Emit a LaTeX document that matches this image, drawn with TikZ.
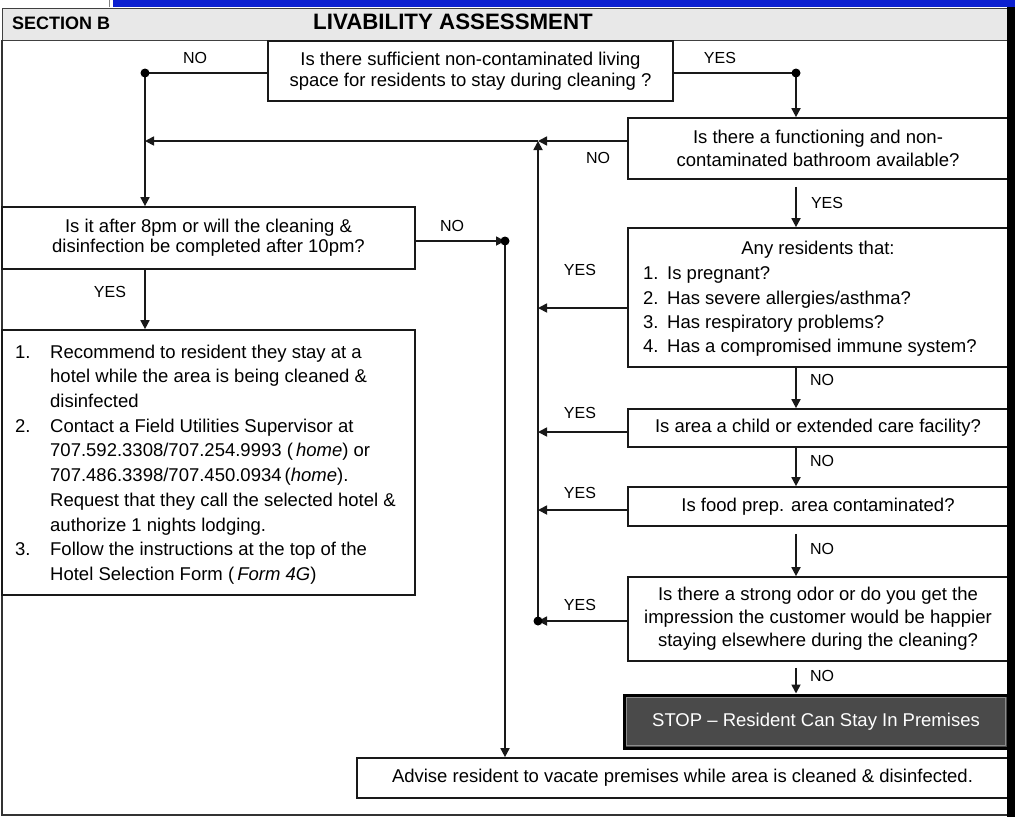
\documentclass[tikz,border=0pt]{standalone}
\usepackage{fontspec}
\setmainfont{Liberation Sans}
\usetikzlibrary{arrows.meta,calc}
\definecolor{topblue}{RGB}{12,32,208}
\definecolor{hdrgray}{RGB}{232,232,232}
\definecolor{stopfill}{RGB}{74,74,74}
\definecolor{linecol}{RGB}{25,25,25}
\begin{document}
\begin{tikzpicture}[x=1pt,y=-1pt,
  box/.style={draw=linecol, line width=1.7pt, fill=white, inner sep=0pt, align=center,
    font=\fontsize{18.5}{21}\selectfont},
  txt/.style={inner sep=0pt, font=\fontsize{18.5}{24.7}\selectfont},
  lbl/.style={inner sep=0pt, font=\fontsize{16}{18}\selectfont},
  ln/.style={line width=1.7pt, draw=linecol},
  arr/.style={line width=1.7pt, draw=linecol, -{Triangle[length=9pt,width=9pt]}},
  dot/.style={circle, fill=black, minimum size=9pt, inner sep=0pt},
  stopbox/.style={draw=black, line width=3pt, fill=stopfill, inner sep=0pt, text=white,
    font=\fontsize{18.5}{21}\selectfont}]
\useasboundingbox (0,0) rectangle (1015,817);
\fill[white] (0,0) rectangle (1015,817);
% top strip
\fill[topblue] (113,0) rectangle (1015,7);
\draw[gray, line width=1.2pt] (109.5,0) -- (109.5,7);
% header
\node[draw=black!75, fill=hdrgray, line width=1.3pt, minimum width=1006pt, minimum height=32pt,
  inner sep=0pt, anchor=north west] (hdr) at (2,8) {};
\node[inner sep=0pt, anchor=west, font=\bfseries\fontsize{18}{18}\selectfont] (sec) at (12,23) {SECTION B};
\node[inner sep=0pt, font=\bfseries\fontsize{22.3}{22}\selectfont] (ttl) at (453,22) {LIVABILITY ASSESSMENT};
% frame
\draw[black!80, line width=1.5pt] (2,40) -- (2,815) -- (1008,815);

% boxes
\node[box, minimum width=405pt, minimum height=60pt, font=\fontsize{18.5}{20.5}\selectfont] (q1) at (470.5,71)
  {Is there sufficient non-contaminated living\\space for residents to stay during cleaning ?};
\node[box, minimum width=380pt, minimum height=61pt, font=\fontsize{18.5}{23}\selectfont] (bath) at (818,148.5)
  {Is there a functioning and non-\\contaminated bathroom available?};
\node[box, minimum width=380pt, minimum height=139pt] (res) at (818,297.5) {};
\node[txt] (resT) at (818,250) {Any residents that:};
\node[txt, anchor=west] (res1) at (643,275) {\makebox[24pt][l]{1.}Is pregnant?};
\node[txt, anchor=west] (res2) at (643,300) {\makebox[24pt][l]{2.}Has severe allergies/asthma?};
\node[txt, anchor=west] (res3) at (643,324) {\makebox[24pt][l]{3.}Has respiratory problems?};
\node[txt, anchor=west] (res4) at (643,348) {\makebox[24pt][l]{4.}Has a compromised immune system?};
\node[box, minimum width=380pt, minimum height=38pt] (child) at (818,428)
  {Is area a child or extended care facility?};
\node[box, minimum width=380pt, minimum height=39pt] (food) at (818,506.5)
  {Is food prep. area contaminated?};
\node[box, minimum width=380pt, minimum height=84pt, font=\fontsize{18.5}{23}\selectfont] (odor) at (818,619)
  {\rule{0pt}{6pt}Is there a strong odor or do you get the\\impression the customer would be happier\\staying elsewhere during the cleaning?};
\node[stopbox, minimum width=384pt, minimum height=53pt] (stop) at (816,721.5)
  {STOP -- Resident Can Stay In Premises};
\draw[black!45, line width=1.2pt] ($(stop.north west)+(4,4)$) rectangle ($(stop.south east)+(-4,-4)$);
\node[box, minimum width=651pt, minimum height=40pt] (adv) at (682.5,778)
  {Advise resident to vacate premises while area is cleaned \& disinfected.};
\node[box, minimum width=413pt, minimum height=62pt, font=\fontsize{18.5}{20}\selectfont] (q8) at (208.5,238)
  {Is it after 8pm or will the cleaning \&\\disinfection be completed after 10pm?};
\node[box, minimum width=413pt, minimum height=265pt] (list) at (208.5,462.5) {};
\node[txt, anchor=west, align=left] (listT) at (15,464.5)
  {\makebox[35pt][l]{1.}Recommend to resident they stay at a\\
   \hspace*{35pt}hotel while the area is being cleaned \&\\
   \hspace*{35pt}disinfected\\
   \makebox[35pt][l]{2.}Contact a Field Utilities Supervisor at\\
   \hspace*{35pt}707.592.3308/707.254.9993 (\,\textit{home}) or\\
   \hspace*{35pt}707.486.3398/707.450.0934\,(\textit{home}).\\
   \hspace*{35pt}Request that they call the selected hotel \&\\
   \hspace*{35pt}authorize 1 nights lodging.\\
   \makebox[35pt][l]{3.}Follow the instructions at the top of the\\
   \hspace*{35pt}Hotel Selection Form (\,\textit{Form 4G})};

% junction coordinates
\coordinate (jNo) at (145,73);
\coordinate (jYes) at (796,73);
\coordinate (cTop) at (538,141);
\coordinate (cBot) at (538,621);
\coordinate (yRes) at (538,308);
\coordinate (yChild) at (538,432);
\coordinate (yFood) at (538,510);
\coordinate (j8) at (505,241);

% connectors
\draw[ln] (jNo -| q1.west) -- (jNo);
\draw[arr] (jNo) -- (jNo |- q8.north);
\draw[ln] (jYes -| q1.east) -- (jYes);
\draw[arr] (jYes) -- (jYes |- bath.north);
\draw[arr] (cTop -| bath.west) -- (cTop);
\draw[arr] (cTop) -- (cTop -| jNo);
\draw[arr] (cBot) -- (cTop);
\draw[arr, shorten <=7pt] (bath.south -| jYes) -- (res.north -| jYes);
\draw[arr] (yRes -| res.west) -- (yRes);
\draw[arr] (res.south -| jYes) -- (child.north -| jYes);
\draw[arr] (yChild -| child.west) -- (yChild);
\draw[arr] (child.south -| jYes) -- (food.north -| jYes);
\draw[arr] (yFood -| food.west) -- (yFood);
\draw[arr, shorten <=7pt] (food.south -| jYes) -- (odor.north -| jYes);
\draw[arr] (cBot -| odor.west) -- (cBot);
\draw[arr, shorten <=6pt] (odor.south -| jYes) -- (stop.north -| jYes);
\draw[arr] (j8 -| q8.east) -- (j8);
\draw[arr] (j8) -- (j8 |- adv.north);
\draw[arr] (q8.south -| jNo) -- (list.north -| jNo);

% dots
\node[dot] (dNo) at (jNo) {};
\node[dot] (dYes) at (jYes) {};
\node[dot] (d8) at (j8) {};
\node[dot] (dBot) at (cBot) {};

% labels
\node[lbl] (l1) at (195,58) {NO};
\node[lbl] (l2) at (720,58) {YES};
\node[lbl] (l3) at (598,158) {NO};
\node[lbl] (l4) at (827,203) {YES};
\node[lbl] (l5) at (580,270) {YES};
\node[lbl] (l6) at (822,380) {NO};
\node[lbl] (l7) at (580,413) {YES};
\node[lbl] (l8) at (822,461) {NO};
\node[lbl] (l9) at (580,493) {YES};
\node[lbl] (l10) at (822,549) {NO};
\node[lbl] (l11) at (580,605) {YES};
\node[lbl] (l12) at (822,676) {NO};
\node[lbl] (l13) at (452,226) {NO};
\node[lbl] (l14) at (110,292) {YES};

% right black band
\fill[black] (1007,7) rectangle (1015,817);
\end{tikzpicture}
\end{document}
